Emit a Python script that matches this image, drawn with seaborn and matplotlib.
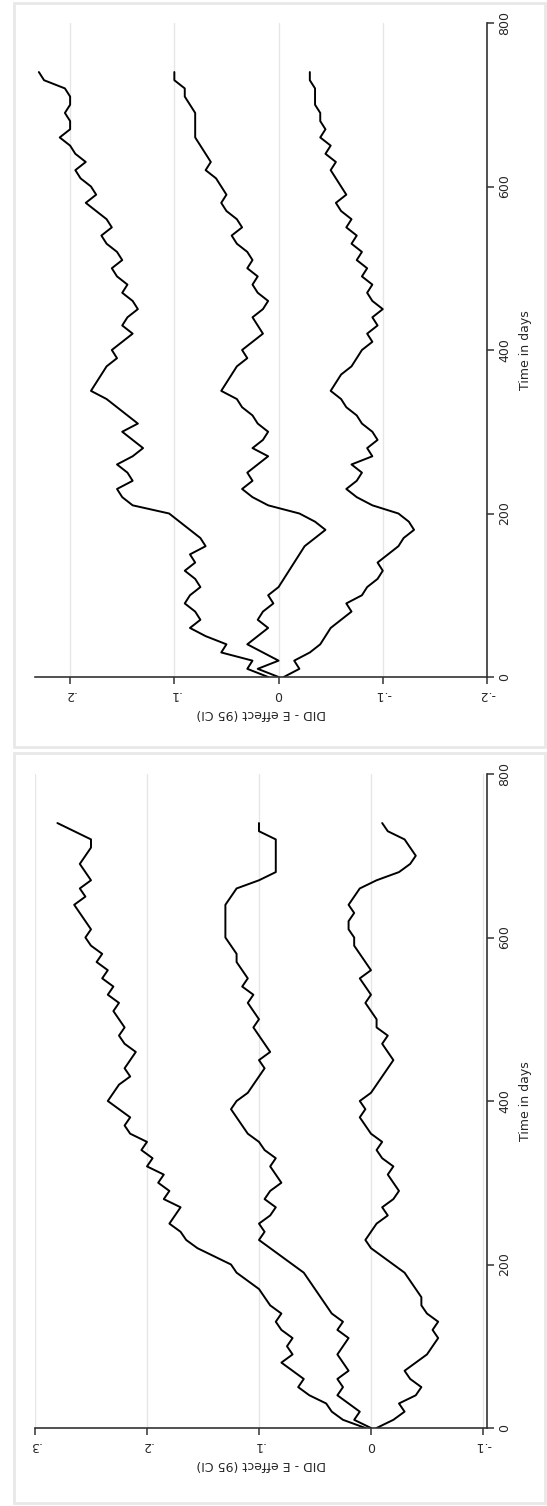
import numpy as np
import pandas as pd
import seaborn as sns
import matplotlib.pyplot as plt
from matplotlib.patches import Rectangle

# time grid (days), one estimate every 10 days
days = list(range(0, 750, 10))

# panel 1 (top): upper CI, point estimate, lower CI
p1_upper = [.01, .03, .025, .055, .05, .07, .085, .075, .08, .09,
            .085, .075, .08, .09, .08, .085, .07, .075, .085, .095,
            .105, .14, .15, .155, .14, .145, .155, .14, .13, .14,
            .15, .135, .145, .155, .165, .18, .175, .17, .165, .155,
            .16, .15, .14, .15, .145, .135, .14, .15, .145, .155,
            .16, .15, .155, .165, .17, .16, .165, .175, .185, .175,
            .18, .19, .195, .185, .195, .2, .21, .2, .2, .205,
            .2, .2, .205, .225, .23]
p1_est = [0, .02, 0, .015, .03, .02, .01, .02, .015, .005,
          .01, 0, -.005, -.01, -.015, -.02, -.025, -.035, -.045, -.035,
          -.02, .01, .025, .035, .025, .03, .02, .01, .025, .015,
          .01, .02, .025, .035, .04, .055, .05, .045, .04, .03,
          .035, .025, .015, .02, .025, .015, .01, .02, .025, .02,
          .03, .025, .03, .04, .045, .035, .04, .05, .055, .05,
          .055, .06, .07, .065, .07, .075, .08, .08, .08, .08,
          .085, .09, .09, .1, .1]
p1_lower = [-.005, -.02, -.015, -.03, -.04, -.045, -.05, -.06, -.07, -.065,
            -.08, -.085, -.095, -.1, -.095, -.105, -.115, -.12, -.13, -.125,
            -.115, -.09, -.075, -.065, -.075, -.08, -.07, -.09, -.085, -.095,
            -.09, -.08, -.075, -.065, -.06, -.05, -.055, -.06, -.07, -.075,
            -.08, -.09, -.085, -.095, -.09, -.1, -.09, -.085, -.09, -.08,
            -.085, -.075, -.08, -.07, -.075, -.065, -.07, -.06, -.055, -.065,
            -.06, -.055, -.05, -.055, -.045, -.05, -.04, -.045, -.04, -.04,
            -.035, -.035, -.035, -.03, -.03]

# panel 2 (bottom)
p2_upper = [.005, .025, .035, .04, .055, .065, .06, .07, .08, .07,
            .075, .07, .08, .085, .08, .09, .095, .1, .11, .12,
            .125, .14, .155, .165, .17, .18, .175, .17, .185, .18,
            .19, .185, .2, .195, .205, .2, .215, .22, .215, .225,
            .235, .23, .225, .215, .22, .215, .21, .22, .225, .22,
            .225, .23, .225, .235, .23, .24, .235, .245, .24, .25,
            .255, .25, .255, .26, .265, .255, .26, .25, .255, .26,
            .255, .25, .25, .265, .28]
p2_est = [0, .015, .01, .02, .03, .025, .03, .02, .025, .03,
          .025, .02, .03, .025, .035, .04, .045, .05, .055, .06,
          .07, .08, .09, .1, .095, .1, .09, .085, .095, .09,
          .08, .085, .09, .085, .095, .1, .11, .115, .12, .125,
          .12, .11, .105, .1, .095, .1, .09, .095, .1, .105,
          .1, .105, .11, .105, .115, .11, .115, .12, .12, .125,
          .13, .13, .13, .13, .13, .125, .12, .1, .085, .085,
          .085, .085, .085, .1, .1]
p2_lower = [-.005, -.02, -.03, -.025, -.04, -.045, -.035, -.03, -.04, -.05,
            -.055, -.06, -.055, -.06, -.05, -.045, -.045, -.04, -.035, -.03,
            -.02, -.01, 0, .005, 0, -.005, -.015, -.01, -.02, -.025,
            -.02, -.015, -.02, -.01, -.005, -.01, 0, .005, .01, .005,
            .01, 0, -.005, -.01, -.015, -.02, -.015, -.01, -.015, -.005,
            -.005, 0, .005, 0, .005, .01, 0, .005, .01, .015,
            .015, .02, .02, .015, .02, .015, .01, -.005, -.025, -.035,
            -.04, -.035, -.03, -.015, -.01]

time_ticks = [0, 200, 400, 600, 800]
p1_ticks = [-.2, -.1, 0, .1, .2]
p1_labels = ['-.2', '-.1', '0', '.1', '.2']
p2_ticks = [-.1, 0, .1, .2, .3]
p2_labels = ['-.1', '0', '.1', '.2', '.3']

sns.set_style('white')
plt.rcParams['font.family'] = ['DejaVu Sans']
plt.rcParams['font.size'] = 9

W, H = 547, 1506
fig = plt.figure(figsize=(W / 100, H / 100), dpi=100)


def rect(x0, x1, ytop, ybot):
    return [x0 / W, 1 - ybot / H, (x1 - x0) / W, (ybot - ytop) / H]


def panel(ax, series, xlim, ticks, labels):
    df = pd.concat([pd.DataFrame({'time': days, 'effect': s, 'series': i})
                    for i, s in enumerate(series)], ignore_index=True)
    sns.lineplot(data=df, x='effect', y='time', units='series', estimator=None,
                 sort=False, orient='y', color='black', lw=1.4, ax=ax)
    ax.set_xlim(*xlim)
    ax.set_ylim(0, 800)
    ax.set_xticks(ticks)
    ax.set_xticklabels(labels, rotation=180)
    ax.yaxis.tick_right()
    ax.yaxis.set_label_position('right')
    ax.set_yticks(time_ticks)
    ax.set_yticklabels([str(t) for t in time_ticks], rotation=90, va='center')
    ax.tick_params(axis='both', length=5, width=1.1, color='#333333',
                   labelsize=9, pad=3, direction='out')
    ax.tick_params(axis='y', left=False, right=True)
    ax.tick_params(axis='x', bottom=True)
    for side in ['left', 'top']:
        ax.spines[side].set_visible(False)
    for side in ['right', 'bottom']:
        ax.spines[side].set_color('#333333')
        ax.spines[side].set_linewidth(1.2)
    ax.grid(axis='x', color='#e6e6e6', lw=1)
    ax.grid(axis='y', visible=False)
    ax.set_axisbelow(True)
    ax.set_ylabel('Time in days', rotation=90, labelpad=6)
    ax.set_xlabel('DID - E effect (95 CI)', rotation=180, labelpad=4)


ax1 = fig.add_axes(rect(35, 487, 23, 677))
panel(ax1, [p1_upper, p1_est, p1_lower], (0.2337, -0.2), p1_ticks, p1_labels)

ax2 = fig.add_axes(rect(35, 487, 774, 1428))
panel(ax2, [p2_upper, p2_est, p2_lower], (0.3, -0.1036), p2_ticks, p2_labels)

# graph region frames
for ytop, ybot in [(3, 747), (753, 1503)]:
    fig.patches.append(Rectangle((14 / W, 1 - ybot / H), (545 - 14) / W,
                                 (ybot - ytop) / H, transform=fig.transFigure,
                                 fill=False, edgecolor='#e8e8e8', lw=2))

fig.savefig('out.png', dpi=100, facecolor='white')
